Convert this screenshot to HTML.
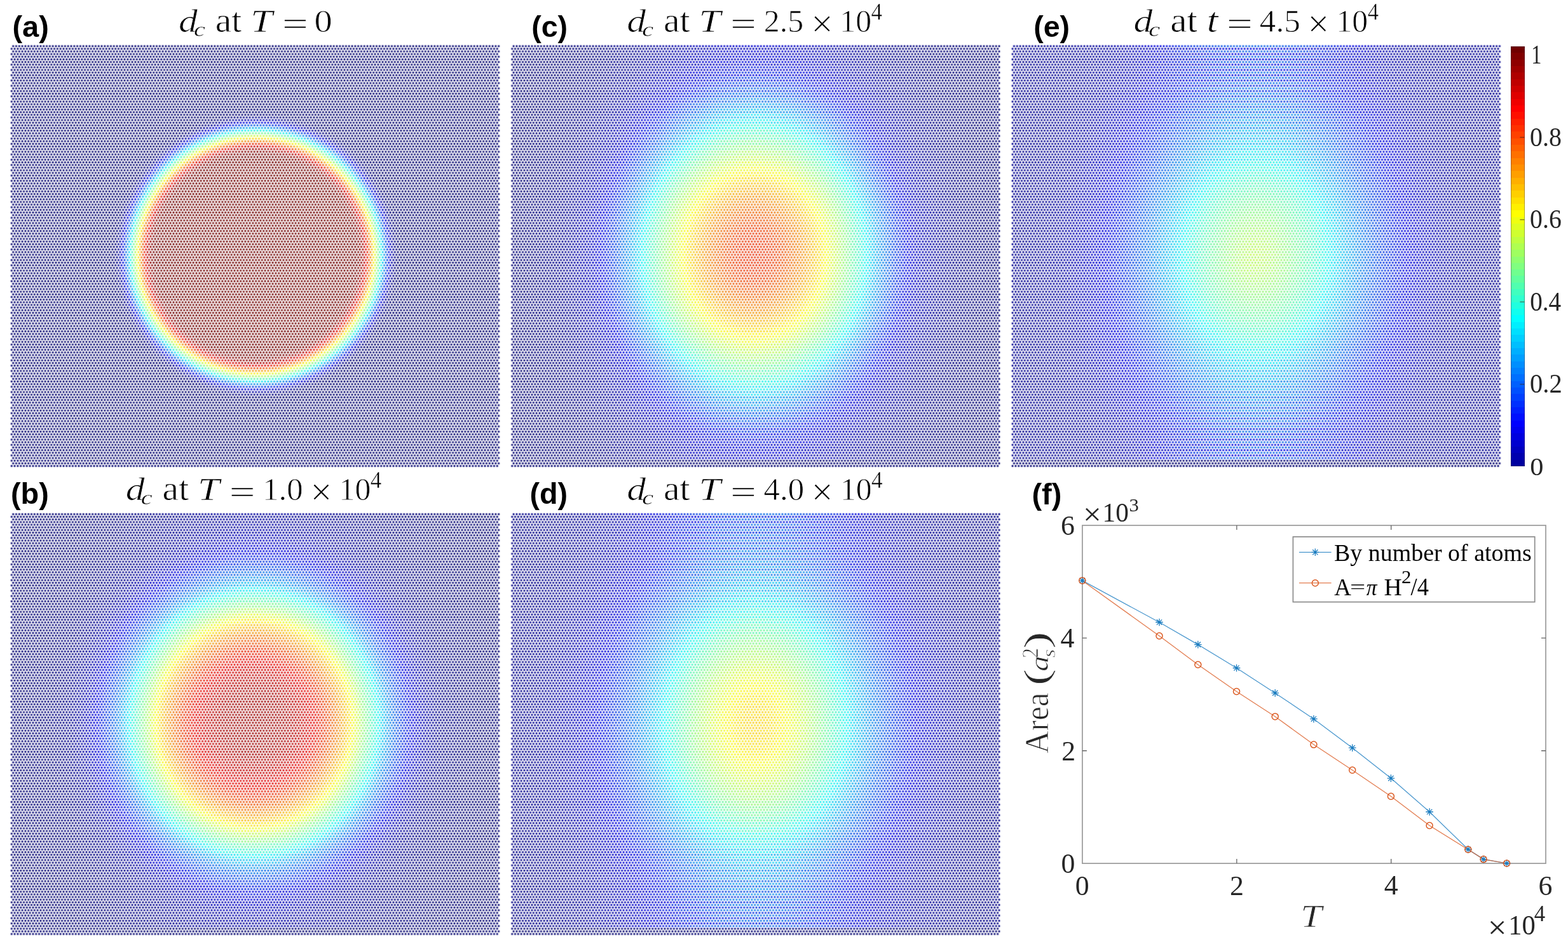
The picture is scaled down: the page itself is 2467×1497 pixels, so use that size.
<!DOCTYPE html>
<html lang="en"><head><meta charset="utf-8"><title>Figure</title>
<style>
html,body{margin:0;padding:0;background:#fff;overflow:hidden;}
body{width:2467px;height:1497px;position:relative;overflow:hidden;font-family:"Liberation Serif",serif;}
.s{position:absolute;filter:url(#jet);-webkit-mask-repeat:repeat;mask-repeat:repeat;
 -webkit-mask-size:9.6100px 8.3254px;mask-size:9.6100px 8.3254px;
 -webkit-mask-image:radial-gradient(circle at 4.8050px 4.1627px,rgba(0,0,0,0.8900) 0.000px,rgba(0,0,0,0.8800) 0.740px,rgba(0,0,0,0.7900) 1.030px,rgba(0,0,0,0.6100) 1.280px,rgba(0,0,0,0.3900) 1.520px,rgba(0,0,0,0.2200) 1.760px,rgba(0,0,0,0.1250) 2.000px,rgba(0,0,0,0.0700) 2.300px,rgba(0,0,0,0.0350) 2.750px,rgba(0,0,0,0.0120) 3.250px,rgba(0,0,0,0.0000) 3.800px),radial-gradient(circle at 4.8050px 4.1627px,rgba(0,0,0,0.8900) 0.000px,rgba(0,0,0,0.8800) 0.740px,rgba(0,0,0,0.7900) 1.030px,rgba(0,0,0,0.6100) 1.280px,rgba(0,0,0,0.3900) 1.520px,rgba(0,0,0,0.2200) 1.760px,rgba(0,0,0,0.1250) 2.000px,rgba(0,0,0,0.0700) 2.300px,rgba(0,0,0,0.0350) 2.750px,rgba(0,0,0,0.0120) 3.250px,rgba(0,0,0,0.0000) 3.800px);
 mask-image:radial-gradient(circle at 4.8050px 4.1627px,rgba(0,0,0,0.8900) 0.000px,rgba(0,0,0,0.8800) 0.740px,rgba(0,0,0,0.7900) 1.030px,rgba(0,0,0,0.6100) 1.280px,rgba(0,0,0,0.3900) 1.520px,rgba(0,0,0,0.2200) 1.760px,rgba(0,0,0,0.1250) 2.000px,rgba(0,0,0,0.0700) 2.300px,rgba(0,0,0,0.0350) 2.750px,rgba(0,0,0,0.0120) 3.250px,rgba(0,0,0,0.0000) 3.800px),radial-gradient(circle at 4.8050px 4.1627px,rgba(0,0,0,0.8900) 0.000px,rgba(0,0,0,0.8800) 0.740px,rgba(0,0,0,0.7900) 1.030px,rgba(0,0,0,0.6100) 1.280px,rgba(0,0,0,0.3900) 1.520px,rgba(0,0,0,0.2200) 1.760px,rgba(0,0,0,0.1250) 2.000px,rgba(0,0,0,0.0700) 2.300px,rgba(0,0,0,0.0350) 2.750px,rgba(0,0,0,0.0120) 3.250px,rgba(0,0,0,0.0000) 3.800px);}
svg{position:absolute;left:0;top:0;}

#paA{-webkit-mask-position:0.2875px 0.2119px,5.0925px 0.2119px;mask-position:0.2875px 0.2119px,5.0925px 0.2119px;}
#paA{clip-path:inset(9.10px 7.90px 8.99px 12.30px);}
#paA{left:6px;top:60px;width:789px;height:683px;background:radial-gradient(ellipse 260.0px 260.0px at 396.60px 342.40px,#ffffff 0.00%,#ffffff 60.94%,#fcfcfc 62.50%,#f6f6f6 64.06%,#ebebeb 65.62%,#dadada 67.19%,#c6c6c6 68.75%,#b1b1b1 70.31%,#9b9b9b 71.88%,#858585 73.44%,#6f6f6f 75.00%,#585858 76.56%,#424242 78.12%,#2d2d2d 79.69%,#1b1b1b 81.25%,#0d0d0d 82.81%,#050505 84.38%,#010101 85.94%,#000000 87.50%,#000000 100.00%);background-color:#000;background-blend-mode:screen;}
#paB{-webkit-mask-position:0.8850px 0.3746px,5.6900px 0.3746px;mask-position:0.8850px 0.3746px,5.6900px 0.3746px;}
#paB{clip-path:inset(9.26px 7.30px 8.83px 12.90px);}
#paB{left:3px;top:64px;width:789px;height:683px;background:radial-gradient(ellipse 260.0px 260.0px at 399.60px 338.40px,#ffffff 0.00%,#ffffff 60.94%,#fcfcfc 62.50%,#f6f6f6 64.06%,#ebebeb 65.62%,#dadada 67.19%,#c6c6c6 68.75%,#b1b1b1 70.31%,#9b9b9b 71.88%,#858585 73.44%,#6f6f6f 75.00%,#585858 76.56%,#424242 78.12%,#2d2d2d 79.69%,#1b1b1b 81.25%,#0d0d0d 82.81%,#050505 84.38%,#010101 85.94%,#000000 87.50%,#000000 100.00%);background-color:#000;background-blend-mode:screen;}
#pbA{-webkit-mask-position:0.2875px 0.9119px,5.0925px 0.9119px;mask-position:0.2875px 0.9119px,5.0925px 0.9119px;}
#pbA{clip-path:inset(9.80px 7.90px 8.29px 12.30px);}
#pbA{left:6px;top:796px;width:789px;height:683px;background:linear-gradient(to bottom,transparent 664.86px,#000 664.86px),radial-gradient(ellipse 420.0px 447.3px at 394.00px 342.33px,#f2f2f2 0.00%,#f2f2f2 6.25%,#f1f1f1 7.81%,#f1f1f1 9.38%,#f0f0f0 10.94%,#efefef 12.50%,#ececec 14.06%,#eaeaea 15.62%,#e8e8e8 17.19%,#e5e5e5 18.75%,#e2e2e2 20.31%,#dedede 21.88%,#dadada 23.44%,#d5d5d5 25.00%,#d0d0d0 26.56%,#c9c9c9 28.12%,#c2c2c2 29.69%,#bbbbbb 31.25%,#b3b3b3 32.81%,#ababab 34.38%,#a2a2a2 35.94%,#989898 37.50%,#8e8e8e 39.06%,#828282 40.62%,#787878 42.19%,#6e6e6e 43.75%,#656565 45.31%,#5b5b5b 46.88%,#505050 48.44%,#454545 50.00%,#3c3c3c 51.56%,#343434 53.12%,#2d2d2d 54.69%,#272727 56.25%,#212121 57.81%,#1c1c1c 59.38%,#171717 60.94%,#131313 62.50%,#0f0f0f 64.06%,#0c0c0c 65.62%,#0a0a0a 67.19%,#070707 68.75%,#060606 70.31%,#050505 71.88%,#040404 73.44%,#040404 75.00%,#030303 76.56%,#030303 78.12%,#020202 79.69%,#020202 82.81%,#010101 84.38%,#010101 92.19%,#000000 93.75%,#000000 100.00%),radial-gradient(ellipse 480.0px 1280.0px at 395.50px 344.33px,#0f0f0f 0.00%,#0f0f0f 7.81%,#0e0e0e 9.38%,#0e0e0e 14.06%,#0d0d0d 15.62%,#0d0d0d 18.75%,#0c0c0c 20.31%,#0c0c0c 21.88%,#0b0b0b 23.44%,#0b0b0b 25.00%,#0a0a0a 26.56%,#0a0a0a 29.69%,#090909 31.25%,#090909 32.81%,#080808 34.38%,#080808 35.94%,#070707 37.50%,#070707 39.06%,#060606 40.62%,#060606 43.75%,#050505 45.31%,#050505 48.44%,#040404 50.00%,#040404 53.12%,#030303 54.69%,#030303 57.81%,#020202 59.38%,#020202 65.62%,#010101 67.19%,#010101 81.25%,#000000 82.81%,#000000 100.00%);background-color:#000;background-blend-mode:normal,screen,screen;}
#pbB{-webkit-mask-position:0.8850px 0.0746px,5.6900px 0.0746px;mask-position:0.8850px 0.0746px,5.6900px 0.0746px;}
#pbB{clip-path:inset(8.96px 7.30px 9.13px 12.90px);}
#pbB{left:3px;top:801px;width:789px;height:683px;background:linear-gradient(to bottom,transparent 659.86px,#000 659.86px),radial-gradient(ellipse 420.0px 438.9px at 397.00px 337.33px,#f2f2f2 0.00%,#f2f2f2 6.25%,#f1f1f1 7.81%,#f1f1f1 9.38%,#f0f0f0 10.94%,#efefef 12.50%,#ececec 14.06%,#eaeaea 15.62%,#e8e8e8 17.19%,#e5e5e5 18.75%,#e2e2e2 20.31%,#dedede 21.88%,#dadada 23.44%,#d5d5d5 25.00%,#d0d0d0 26.56%,#c9c9c9 28.12%,#c2c2c2 29.69%,#bbbbbb 31.25%,#b3b3b3 32.81%,#ababab 34.38%,#a2a2a2 35.94%,#989898 37.50%,#8e8e8e 39.06%,#828282 40.62%,#787878 42.19%,#6e6e6e 43.75%,#656565 45.31%,#5b5b5b 46.88%,#505050 48.44%,#454545 50.00%,#3c3c3c 51.56%,#343434 53.12%,#2d2d2d 54.69%,#272727 56.25%,#212121 57.81%,#1c1c1c 59.38%,#171717 60.94%,#131313 62.50%,#0f0f0f 64.06%,#0c0c0c 65.62%,#0a0a0a 67.19%,#070707 68.75%,#060606 70.31%,#050505 71.88%,#040404 73.44%,#040404 75.00%,#030303 76.56%,#030303 78.12%,#020202 79.69%,#020202 82.81%,#010101 84.38%,#010101 92.19%,#000000 93.75%,#000000 100.00%),radial-gradient(ellipse 480.0px 1280.0px at 398.50px 339.33px,#0a0a0a 0.00%,#0a0a0a 9.38%,#090909 10.94%,#090909 17.19%,#080808 18.75%,#080808 23.44%,#070707 25.00%,#070707 28.12%,#060606 29.69%,#060606 32.81%,#050505 34.38%,#050505 39.06%,#040404 40.62%,#040404 43.75%,#030303 45.31%,#030303 51.56%,#020202 53.12%,#020202 59.38%,#010101 60.94%,#010101 75.00%,#000000 76.56%,#000000 100.00%);background-color:#000;background-blend-mode:normal,screen,screen;}
#pcA{-webkit-mask-position:0.6875px 0.2119px,5.4925px 0.2119px;mask-position:0.6875px 0.2119px,5.4925px 0.2119px;}
#pcA{clip-path:inset(9.10px 7.50px 8.99px 12.70px);}
#pcA{left:793px;top:60px;width:789px;height:683px;background:linear-gradient(to bottom,transparent 664.16px,#000 664.16px),radial-gradient(ellipse 520.0px 618.8px at 393.90px 340.63px,#d1d1d1 0.00%,#cfcfcf 1.56%,#cecece 3.12%,#cdcdcd 4.69%,#cbcbcb 6.25%,#c8c8c8 7.81%,#c4c4c4 9.38%,#c0c0c0 10.94%,#bbbbbb 12.50%,#b7b7b7 14.06%,#b1b1b1 15.62%,#ababab 17.19%,#a5a5a5 18.75%,#9f9f9f 20.31%,#989898 21.88%,#919191 23.44%,#898989 25.00%,#818181 26.56%,#797979 28.12%,#717171 29.69%,#696969 31.25%,#606060 32.81%,#575757 34.38%,#4e4e4e 35.94%,#454545 37.50%,#3d3d3d 39.06%,#353535 40.62%,#2e2e2e 42.19%,#272727 43.75%,#212121 45.31%,#1b1b1b 46.88%,#161616 48.44%,#131313 50.00%,#101010 51.56%,#0e0e0e 53.12%,#0b0b0b 54.69%,#0a0a0a 56.25%,#080808 57.81%,#070707 59.38%,#060606 60.94%,#050505 62.50%,#040404 64.06%,#040404 65.62%,#030303 67.19%,#030303 68.75%,#020202 70.31%,#020202 73.44%,#010101 75.00%,#010101 87.50%,#000000 89.06%,#000000 100.00%),radial-gradient(ellipse 480.0px 1280.0px at 395.90px 343.63px,#141414 0.00%,#141414 6.25%,#131313 7.81%,#131313 10.94%,#121212 12.50%,#121212 15.62%,#111111 17.19%,#111111 18.75%,#101010 20.31%,#101010 21.88%,#0f0f0f 23.44%,#0f0f0f 25.00%,#0e0e0e 26.56%,#0d0d0d 28.12%,#0d0d0d 29.69%,#0c0c0c 31.25%,#0c0c0c 32.81%,#0b0b0b 34.38%,#0a0a0a 35.94%,#0a0a0a 37.50%,#090909 39.06%,#090909 40.62%,#080808 42.19%,#080808 43.75%,#070707 45.31%,#060606 46.88%,#060606 50.00%,#050505 51.56%,#050505 53.12%,#040404 54.69%,#040404 57.81%,#030303 59.38%,#030303 62.50%,#020202 64.06%,#020202 70.31%,#010101 71.88%,#010101 84.38%,#000000 85.94%,#000000 100.00%);background-color:#000;background-blend-mode:normal,screen,screen;}
#pcB{-webkit-mask-position:0.2850px 0.3746px,5.0900px 0.3746px;mask-position:0.2850px 0.3746px,5.0900px 0.3746px;}
#pcB{clip-path:inset(9.26px 7.90px 8.83px 12.30px);}
#pcB{left:791px;top:64px;width:789px;height:683px;background:linear-gradient(to bottom,transparent 660.16px,#000 660.16px),radial-gradient(ellipse 520.0px 592.8px at 395.90px 336.63px,#d4d4d4 0.00%,#d2d2d2 1.56%,#d1d1d1 3.12%,#d0d0d0 4.69%,#cecece 6.25%,#cbcbcb 7.81%,#c7c7c7 9.38%,#c3c3c3 10.94%,#bebebe 12.50%,#b9b9b9 14.06%,#b4b4b4 15.62%,#aeaeae 17.19%,#a8a8a8 18.75%,#a1a1a1 20.31%,#9a9a9a 21.88%,#939393 23.44%,#8b8b8b 25.00%,#838383 26.56%,#7b7b7b 28.12%,#727272 29.69%,#6a6a6a 31.25%,#626262 32.81%,#595959 34.38%,#4f4f4f 35.94%,#464646 37.50%,#3e3e3e 39.06%,#363636 40.62%,#2e2e2e 42.19%,#272727 43.75%,#212121 45.31%,#1c1c1c 46.88%,#171717 48.44%,#131313 50.00%,#101010 51.56%,#0e0e0e 53.12%,#0c0c0c 54.69%,#0a0a0a 56.25%,#080808 57.81%,#070707 59.38%,#060606 60.94%,#050505 62.50%,#040404 64.06%,#040404 65.62%,#030303 67.19%,#030303 68.75%,#020202 70.31%,#020202 73.44%,#010101 75.00%,#010101 87.50%,#000000 89.06%,#000000 100.00%),radial-gradient(ellipse 480.0px 1280.0px at 397.90px 339.63px,#0a0a0a 0.00%,#0a0a0a 9.38%,#090909 10.94%,#090909 17.19%,#080808 18.75%,#080808 23.44%,#070707 25.00%,#070707 28.12%,#060606 29.69%,#060606 32.81%,#050505 34.38%,#050505 39.06%,#040404 40.62%,#040404 43.75%,#030303 45.31%,#030303 51.56%,#020202 53.12%,#020202 59.38%,#010101 60.94%,#010101 75.00%,#000000 76.56%,#000000 100.00%);background-color:#000;background-blend-mode:normal,screen,screen;}
#pdA{-webkit-mask-position:0.6875px 0.9119px,5.4925px 0.9119px;mask-position:0.6875px 0.9119px,5.4925px 0.9119px;}
#pdA{clip-path:inset(9.80px 7.50px 8.29px 12.70px);}
#pdA{left:793px;top:796px;width:789px;height:683px;background:linear-gradient(to bottom,transparent 664.86px,#000 664.86px),radial-gradient(ellipse 540.0px 742.0px at 395.90px 344.33px,#a5a5a5 0.00%,#a5a5a5 1.56%,#a4a4a4 3.12%,#a2a2a2 4.69%,#a0a0a0 6.25%,#9d9d9d 7.81%,#999999 9.38%,#959595 10.94%,#909090 12.50%,#8b8b8b 14.06%,#868686 15.62%,#808080 17.19%,#7a7a7a 18.75%,#747474 20.31%,#6e6e6e 21.88%,#676767 23.44%,#616161 25.00%,#5b5b5b 26.56%,#545454 28.12%,#4e4e4e 29.69%,#484848 31.25%,#424242 32.81%,#3c3c3c 34.38%,#373737 35.94%,#323232 37.50%,#2d2d2d 39.06%,#292929 40.62%,#242424 42.19%,#202020 43.75%,#1d1d1d 45.31%,#191919 46.88%,#161616 48.44%,#141414 50.00%,#111111 51.56%,#0f0f0f 53.12%,#0d0d0d 54.69%,#0b0b0b 56.25%,#0a0a0a 57.81%,#080808 59.38%,#070707 60.94%,#060606 62.50%,#050505 64.06%,#040404 65.62%,#040404 67.19%,#030303 68.75%,#020202 70.31%,#020202 73.44%,#010101 75.00%,#010101 81.25%,#000000 82.81%,#000000 100.00%),radial-gradient(ellipse 540.0px 742.0px at 395.90px -321.70px,#a5a5a5 0.00%,#a5a5a5 1.56%,#a4a4a4 3.12%,#a2a2a2 4.69%,#a0a0a0 6.25%,#9d9d9d 7.81%,#999999 9.38%,#959595 10.94%,#909090 12.50%,#8b8b8b 14.06%,#868686 15.62%,#808080 17.19%,#7a7a7a 18.75%,#747474 20.31%,#6e6e6e 21.88%,#676767 23.44%,#616161 25.00%,#5b5b5b 26.56%,#545454 28.12%,#4e4e4e 29.69%,#484848 31.25%,#424242 32.81%,#3c3c3c 34.38%,#373737 35.94%,#323232 37.50%,#2d2d2d 39.06%,#292929 40.62%,#242424 42.19%,#202020 43.75%,#1d1d1d 45.31%,#191919 46.88%,#161616 48.44%,#141414 50.00%,#111111 51.56%,#0f0f0f 53.12%,#0d0d0d 54.69%,#0b0b0b 56.25%,#0a0a0a 57.81%,#080808 59.38%,#070707 60.94%,#060606 62.50%,#050505 64.06%,#040404 65.62%,#040404 67.19%,#030303 68.75%,#020202 70.31%,#020202 73.44%,#010101 75.00%,#010101 81.25%,#000000 82.81%,#000000 100.00%),radial-gradient(ellipse 540.0px 742.0px at 395.90px 1010.37px,#a5a5a5 0.00%,#a5a5a5 1.56%,#a4a4a4 3.12%,#a2a2a2 4.69%,#a0a0a0 6.25%,#9d9d9d 7.81%,#999999 9.38%,#959595 10.94%,#909090 12.50%,#8b8b8b 14.06%,#868686 15.62%,#808080 17.19%,#7a7a7a 18.75%,#747474 20.31%,#6e6e6e 21.88%,#676767 23.44%,#616161 25.00%,#5b5b5b 26.56%,#545454 28.12%,#4e4e4e 29.69%,#484848 31.25%,#424242 32.81%,#3c3c3c 34.38%,#373737 35.94%,#323232 37.50%,#2d2d2d 39.06%,#292929 40.62%,#242424 42.19%,#202020 43.75%,#1d1d1d 45.31%,#191919 46.88%,#161616 48.44%,#141414 50.00%,#111111 51.56%,#0f0f0f 53.12%,#0d0d0d 54.69%,#0b0b0b 56.25%,#0a0a0a 57.81%,#080808 59.38%,#070707 60.94%,#060606 62.50%,#050505 64.06%,#040404 65.62%,#040404 67.19%,#030303 68.75%,#020202 70.31%,#020202 73.44%,#010101 75.00%,#010101 81.25%,#000000 82.81%,#000000 100.00%),linear-gradient(#060606,#060606);background-color:#000;background-blend-mode:normal,screen,screen,screen,screen;}
#pdB{-webkit-mask-position:0.2850px 0.0746px,5.0900px 0.0746px;mask-position:0.2850px 0.0746px,5.0900px 0.0746px;}
#pdB{clip-path:inset(8.96px 7.90px 9.13px 12.30px);}
#pdB{left:791px;top:801px;width:789px;height:683px;background:linear-gradient(to bottom,transparent 659.86px,#000 659.86px),radial-gradient(ellipse 540.0px 647.2px at 397.90px 339.33px,#aaaaaa 0.00%,#aaaaaa 1.56%,#a8a8a8 3.12%,#a7a7a7 4.69%,#a4a4a4 6.25%,#a1a1a1 7.81%,#9e9e9e 9.38%,#999999 10.94%,#959595 12.50%,#909090 14.06%,#8a8a8a 15.62%,#848484 17.19%,#7e7e7e 18.75%,#787878 20.31%,#717171 21.88%,#6b6b6b 23.44%,#646464 25.00%,#5d5d5d 26.56%,#575757 28.12%,#505050 29.69%,#4a4a4a 31.25%,#444444 32.81%,#3e3e3e 34.38%,#393939 35.94%,#333333 37.50%,#2e2e2e 39.06%,#2a2a2a 40.62%,#252525 42.19%,#212121 43.75%,#1e1e1e 45.31%,#1a1a1a 46.88%,#171717 48.44%,#141414 50.00%,#121212 51.56%,#0f0f0f 53.12%,#0d0d0d 54.69%,#0c0c0c 56.25%,#0a0a0a 57.81%,#080808 59.38%,#070707 60.94%,#060606 62.50%,#050505 64.06%,#040404 65.62%,#040404 67.19%,#030303 68.75%,#030303 70.31%,#020202 71.88%,#020202 73.44%,#010101 75.00%,#010101 82.81%,#000000 84.38%,#000000 100.00%),radial-gradient(ellipse 540.0px 647.2px at 397.90px -326.70px,#aaaaaa 0.00%,#aaaaaa 1.56%,#a8a8a8 3.12%,#a7a7a7 4.69%,#a4a4a4 6.25%,#a1a1a1 7.81%,#9e9e9e 9.38%,#999999 10.94%,#959595 12.50%,#909090 14.06%,#8a8a8a 15.62%,#848484 17.19%,#7e7e7e 18.75%,#787878 20.31%,#717171 21.88%,#6b6b6b 23.44%,#646464 25.00%,#5d5d5d 26.56%,#575757 28.12%,#505050 29.69%,#4a4a4a 31.25%,#444444 32.81%,#3e3e3e 34.38%,#393939 35.94%,#333333 37.50%,#2e2e2e 39.06%,#2a2a2a 40.62%,#252525 42.19%,#212121 43.75%,#1e1e1e 45.31%,#1a1a1a 46.88%,#171717 48.44%,#141414 50.00%,#121212 51.56%,#0f0f0f 53.12%,#0d0d0d 54.69%,#0c0c0c 56.25%,#0a0a0a 57.81%,#080808 59.38%,#070707 60.94%,#060606 62.50%,#050505 64.06%,#040404 65.62%,#040404 67.19%,#030303 68.75%,#030303 70.31%,#020202 71.88%,#020202 73.44%,#010101 75.00%,#010101 82.81%,#000000 84.38%,#000000 100.00%),radial-gradient(ellipse 540.0px 647.2px at 397.90px 1005.37px,#aaaaaa 0.00%,#aaaaaa 1.56%,#a8a8a8 3.12%,#a7a7a7 4.69%,#a4a4a4 6.25%,#a1a1a1 7.81%,#9e9e9e 9.38%,#999999 10.94%,#959595 12.50%,#909090 14.06%,#8a8a8a 15.62%,#848484 17.19%,#7e7e7e 18.75%,#787878 20.31%,#717171 21.88%,#6b6b6b 23.44%,#646464 25.00%,#5d5d5d 26.56%,#575757 28.12%,#505050 29.69%,#4a4a4a 31.25%,#444444 32.81%,#3e3e3e 34.38%,#393939 35.94%,#333333 37.50%,#2e2e2e 39.06%,#2a2a2a 40.62%,#252525 42.19%,#212121 43.75%,#1e1e1e 45.31%,#1a1a1a 46.88%,#171717 48.44%,#141414 50.00%,#121212 51.56%,#0f0f0f 53.12%,#0d0d0d 54.69%,#0c0c0c 56.25%,#0a0a0a 57.81%,#080808 59.38%,#070707 60.94%,#060606 62.50%,#050505 64.06%,#040404 65.62%,#040404 67.19%,#030303 68.75%,#030303 70.31%,#020202 71.88%,#020202 73.44%,#010101 75.00%,#010101 82.81%,#000000 84.38%,#000000 100.00%),linear-gradient(#060606,#060606);background-color:#000;background-blend-mode:normal,screen,screen,screen,screen;}
#peA{-webkit-mask-position:0.0875px 0.2119px,4.8925px 0.2119px;mask-position:0.0875px 0.2119px,4.8925px 0.2119px;}
#peA{clip-path:inset(9.10px 8.10px 8.99px 12.10px);}
#peA{left:1581px;top:60px;width:789px;height:683px;background:linear-gradient(to bottom,transparent 664.16px,#000 664.16px),radial-gradient(ellipse 540.0px 788.4px at 395.30px 343.63px,#8b8b8b 0.00%,#8a8a8a 1.56%,#898989 3.12%,#878787 4.69%,#848484 6.25%,#818181 7.81%,#7e7e7e 9.38%,#7a7a7a 10.94%,#777777 12.50%,#737373 14.06%,#6f6f6f 15.62%,#6a6a6a 17.19%,#666666 18.75%,#616161 20.31%,#5c5c5c 21.88%,#575757 23.44%,#525252 25.00%,#4d4d4d 26.56%,#484848 28.12%,#434343 29.69%,#3e3e3e 31.25%,#3a3a3a 32.81%,#353535 34.38%,#313131 35.94%,#2d2d2d 37.50%,#2a2a2a 39.06%,#262626 40.62%,#232323 42.19%,#202020 43.75%,#1d1d1d 45.31%,#1b1b1b 46.88%,#181818 48.44%,#161616 50.00%,#141414 51.56%,#121212 53.12%,#101010 54.69%,#0f0f0f 56.25%,#0e0e0e 57.81%,#0d0d0d 59.38%,#0c0c0c 60.94%,#0b0b0b 62.50%,#0b0b0b 65.62%,#0a0a0a 67.19%,#0a0a0a 73.44%,#090909 75.00%,#090909 100.00%),radial-gradient(ellipse 540.0px 788.4px at 395.30px -322.40px,#828282 0.00%,#818181 1.56%,#808080 3.12%,#7e7e7e 4.69%,#7b7b7b 6.25%,#787878 7.81%,#757575 9.38%,#727272 10.94%,#6e6e6e 12.50%,#6a6a6a 14.06%,#666666 15.62%,#626262 17.19%,#5d5d5d 18.75%,#585858 20.31%,#535353 21.88%,#4e4e4e 23.44%,#494949 25.00%,#444444 26.56%,#3f3f3f 28.12%,#3b3b3b 29.69%,#363636 31.25%,#313131 32.81%,#2d2d2d 34.38%,#292929 35.94%,#252525 37.50%,#212121 39.06%,#1d1d1d 40.62%,#1a1a1a 42.19%,#171717 43.75%,#151515 45.31%,#121212 46.88%,#101010 48.44%,#0d0d0d 50.00%,#0b0b0b 51.56%,#0a0a0a 53.12%,#080808 54.69%,#060606 56.25%,#050505 57.81%,#040404 59.38%,#030303 60.94%,#030303 62.50%,#020202 64.06%,#020202 67.19%,#010101 68.75%,#010101 82.81%,#000000 84.38%,#000000 100.00%),radial-gradient(ellipse 540.0px 788.4px at 395.30px 1009.67px,#828282 0.00%,#818181 1.56%,#808080 3.12%,#7e7e7e 4.69%,#7b7b7b 6.25%,#787878 7.81%,#757575 9.38%,#727272 10.94%,#6e6e6e 12.50%,#6a6a6a 14.06%,#666666 15.62%,#626262 17.19%,#5d5d5d 18.75%,#585858 20.31%,#535353 21.88%,#4e4e4e 23.44%,#494949 25.00%,#444444 26.56%,#3f3f3f 28.12%,#3b3b3b 29.69%,#363636 31.25%,#313131 32.81%,#2d2d2d 34.38%,#292929 35.94%,#252525 37.50%,#212121 39.06%,#1d1d1d 40.62%,#1a1a1a 42.19%,#171717 43.75%,#151515 45.31%,#121212 46.88%,#101010 48.44%,#0d0d0d 50.00%,#0b0b0b 51.56%,#0a0a0a 53.12%,#080808 54.69%,#060606 56.25%,#050505 57.81%,#040404 59.38%,#030303 60.94%,#030303 62.50%,#020202 64.06%,#020202 67.19%,#010101 68.75%,#010101 82.81%,#000000 84.38%,#000000 100.00%);background-color:#000;background-blend-mode:normal,screen,screen,screen;}
#peB{-webkit-mask-position:0.6850px 0.3746px,5.4900px 0.3746px;mask-position:0.6850px 0.3746px,5.4900px 0.3746px;}
#peB{clip-path:inset(9.26px 7.50px 8.83px 12.70px);}
#peB{left:1578px;top:64px;width:789px;height:683px;background:linear-gradient(to bottom,transparent 660.16px,#000 660.16px),radial-gradient(ellipse 540.0px 648.0px at 398.30px 339.63px,#909090 0.00%,#909090 1.56%,#8e8e8e 3.12%,#8c8c8c 4.69%,#898989 6.25%,#868686 7.81%,#838383 9.38%,#7f7f7f 10.94%,#7b7b7b 12.50%,#777777 14.06%,#737373 15.62%,#6f6f6f 17.19%,#6a6a6a 18.75%,#656565 20.31%,#5f5f5f 21.88%,#5a5a5a 23.44%,#555555 25.00%,#505050 26.56%,#4b4b4b 28.12%,#464646 29.69%,#414141 31.25%,#3c3c3c 32.81%,#383838 34.38%,#333333 35.94%,#2f2f2f 37.50%,#2b2b2b 39.06%,#282828 40.62%,#242424 42.19%,#212121 43.75%,#1e1e1e 45.31%,#1c1c1c 46.88%,#191919 48.44%,#171717 50.00%,#151515 51.56%,#131313 53.12%,#111111 54.69%,#0f0f0f 56.25%,#0e0e0e 57.81%,#0d0d0d 59.38%,#0d0d0d 60.94%,#0c0c0c 62.50%,#0b0b0b 64.06%,#0b0b0b 67.19%,#0a0a0a 68.75%,#0a0a0a 81.25%,#090909 82.81%,#090909 100.00%),radial-gradient(ellipse 540.0px 648.0px at 398.30px -326.40px,#888888 0.00%,#878787 1.56%,#858585 3.12%,#838383 4.69%,#808080 6.25%,#7d7d7d 7.81%,#7a7a7a 9.38%,#767676 10.94%,#737373 12.50%,#6f6f6f 14.06%,#6a6a6a 15.62%,#666666 17.19%,#616161 18.75%,#5c5c5c 20.31%,#575757 21.88%,#515151 23.44%,#4c4c4c 25.00%,#474747 26.56%,#424242 28.12%,#3d3d3d 29.69%,#383838 31.25%,#333333 32.81%,#2f2f2f 34.38%,#2a2a2a 35.94%,#262626 37.50%,#222222 39.06%,#1f1f1f 40.62%,#1b1b1b 42.19%,#181818 43.75%,#151515 45.31%,#131313 46.88%,#101010 48.44%,#0e0e0e 50.00%,#0c0c0c 51.56%,#0a0a0a 53.12%,#080808 54.69%,#070707 56.25%,#050505 57.81%,#040404 59.38%,#040404 60.94%,#030303 62.50%,#030303 64.06%,#020202 65.62%,#020202 67.19%,#010101 68.75%,#010101 84.38%,#000000 85.94%,#000000 100.00%),radial-gradient(ellipse 540.0px 648.0px at 398.30px 1005.67px,#888888 0.00%,#878787 1.56%,#858585 3.12%,#838383 4.69%,#808080 6.25%,#7d7d7d 7.81%,#7a7a7a 9.38%,#767676 10.94%,#737373 12.50%,#6f6f6f 14.06%,#6a6a6a 15.62%,#666666 17.19%,#616161 18.75%,#5c5c5c 20.31%,#575757 21.88%,#515151 23.44%,#4c4c4c 25.00%,#474747 26.56%,#424242 28.12%,#3d3d3d 29.69%,#383838 31.25%,#333333 32.81%,#2f2f2f 34.38%,#2a2a2a 35.94%,#262626 37.50%,#222222 39.06%,#1f1f1f 40.62%,#1b1b1b 42.19%,#181818 43.75%,#151515 45.31%,#131313 46.88%,#101010 48.44%,#0e0e0e 50.00%,#0c0c0c 51.56%,#0a0a0a 53.12%,#080808 54.69%,#070707 56.25%,#050505 57.81%,#040404 59.38%,#040404 60.94%,#030303 62.50%,#030303 64.06%,#020202 65.62%,#020202 67.19%,#010101 68.75%,#010101 84.38%,#000000 85.94%,#000000 100.00%);background-color:#000;background-blend-mode:normal,screen,screen,screen;}
#cb{position:absolute;left:2376.60px;top:73.30px;width:22.30px;height:661.10px;background:linear-gradient(to bottom,#700000 0.000%,#700000 1.562%,#800000 1.562%,#800000 3.125%,#8f0000 3.125%,#8f0000 4.688%,#9f0000 4.688%,#9f0000 6.250%,#af0000 6.250%,#af0000 7.812%,#bf0000 7.812%,#bf0000 9.375%,#cf0000 9.375%,#cf0000 10.938%,#df0000 10.938%,#df0000 12.500%,#ef0000 12.500%,#ef0000 14.062%,#ff0000 14.062%,#ff0000 15.625%,#ff1000 15.625%,#ff1000 17.188%,#ff2000 17.188%,#ff2000 18.750%,#ff3000 18.750%,#ff3000 20.312%,#ff4000 20.312%,#ff4000 21.875%,#ff5000 21.875%,#ff5000 23.438%,#ff6000 23.438%,#ff6000 25.000%,#ff7000 25.000%,#ff7000 26.562%,#ff8000 26.562%,#ff8000 28.125%,#ff8f00 28.125%,#ff8f00 29.688%,#ff9f00 29.688%,#ff9f00 31.250%,#ffaf00 31.250%,#ffaf00 32.812%,#ffbf00 32.812%,#ffbf00 34.375%,#ffcf00 34.375%,#ffcf00 35.938%,#ffdf00 35.938%,#ffdf00 37.500%,#ffef00 37.500%,#ffef00 39.062%,#ffff00 39.062%,#ffff00 40.625%,#efff10 40.625%,#efff10 42.188%,#dfff20 42.188%,#dfff20 43.750%,#cfff30 43.750%,#cfff30 45.312%,#bfff40 45.312%,#bfff40 46.875%,#afff50 46.875%,#afff50 48.438%,#9fff60 48.438%,#9fff60 50.000%,#8fff70 50.000%,#8fff70 51.562%,#80ff80 51.562%,#80ff80 53.125%,#70ff8f 53.125%,#70ff8f 54.688%,#60ff9f 54.688%,#60ff9f 56.250%,#50ffaf 56.250%,#50ffaf 57.812%,#40ffbf 57.812%,#40ffbf 59.375%,#30ffcf 59.375%,#30ffcf 60.938%,#20ffdf 60.938%,#20ffdf 62.500%,#10ffef 62.500%,#10ffef 64.062%,#00ffff 64.062%,#00ffff 65.625%,#00efff 65.625%,#00efff 67.188%,#00dfff 67.188%,#00dfff 68.750%,#00cfff 68.750%,#00cfff 70.312%,#00bfff 70.312%,#00bfff 71.875%,#00afff 71.875%,#00afff 73.438%,#009fff 73.438%,#009fff 75.000%,#008fff 75.000%,#008fff 76.562%,#0080ff 76.562%,#0080ff 78.125%,#0070ff 78.125%,#0070ff 79.688%,#0060ff 79.688%,#0060ff 81.250%,#0050ff 81.250%,#0050ff 82.812%,#0040ff 82.812%,#0040ff 84.375%,#0030ff 84.375%,#0030ff 85.938%,#0020ff 85.938%,#0020ff 87.500%,#0010ff 87.500%,#0010ff 89.062%,#0000ff 89.062%,#0000ff 90.625%,#0000ef 90.625%,#0000ef 92.188%,#0000df 92.188%,#0000df 93.750%,#0000cf 93.750%,#0000cf 95.312%,#0000bf 95.312%,#0000bf 96.875%,#0000af 96.875%,#0000af 98.438%,#00009f 98.438%,#00009f 100.000%);box-shadow:inset 0 0 0 1px rgba(40,20,40,0.35);}</style></head>
<body>
<div class="s" id="paA"></div>
<div class="s" id="paB"></div>
<div class="s" id="pbA"></div>
<div class="s" id="pbB"></div>
<div class="s" id="pcA"></div>
<div class="s" id="pcB"></div>
<div class="s" id="pdA"></div>
<div class="s" id="pdB"></div>
<div class="s" id="peA"></div>
<div class="s" id="peB"></div>
<div id="cb"></div>
<svg width="2467" height="1497" viewBox="0 0 2467 1497">
<defs><filter id="jet" x="0" y="0" width="100%" height="100%" color-interpolation-filters="sRGB"><feComponentTransfer><feFuncR type="table" tableValues="0.009 0.009 0.01 0.01 0.011 0.011 0.012 0.012 0.013 0.013 0.014 0.014 0.015 0.015 0.016 0.017 0.017 0.02 0.023 0.025 0.028 0.031 0.034 0.036 0.039 0.042 0.045 0.047 0.05 0.053 0.056 0.059 0.061 0.064 0.066 0.069 0.072 0.075 0.078 0.08 0.083 0.086 0.089 0.091 0.094 0.097 0.1 0.102 0.105 0.133 0.16 0.188 0.215 0.243 0.27 0.298 0.325 0.353 0.381 0.408 0.436 0.463 0.491 0.518 0.546 0.57 0.597 0.625 0.652 0.68 0.708 0.735 0.763 0.79 0.818 0.845 0.873 0.9 0.928 0.955 0.983 0.98 0.977 0.975 0.972 0.969 0.966 0.964 0.961 0.958 0.955 0.953 0.95 0.947 0.944 0.941 0.939 0.936 0.934 0.931 0.928 0.925 0.922 0.92 0.917 0.914 0.911 0.909 0.906 0.903 0.9 0.898 0.895 0.867 0.839 0.811 0.783 0.754 0.726 0.698 0.67 0.642 0.614 0.586 0.558 0.53 0.502 0.474 0.449"/><feFuncG type="table" tableValues="0.009 0.009 0.01 0.01 0.011 0.011 0.012 0.012 0.013 0.013 0.014 0.014 0.015 0.015 0.016 0.017 0.017 0.047 0.076 0.105 0.135 0.164 0.194 0.223 0.253 0.282 0.311 0.341 0.37 0.4 0.429 0.459 0.488 0.514 0.543 0.573 0.602 0.631 0.661 0.69 0.72 0.749 0.779 0.808 0.837 0.867 0.896 0.926 0.955 0.956 0.957 0.958 0.959 0.96 0.96 0.961 0.962 0.963 0.964 0.965 0.966 0.966 0.967 0.968 0.969 0.97 0.971 0.972 0.972 0.973 0.974 0.975 0.976 0.977 0.978 0.979 0.979 0.98 0.981 0.982 0.983 0.953 0.924 0.895 0.865 0.836 0.806 0.777 0.747 0.718 0.689 0.659 0.63 0.6 0.571 0.541 0.516 0.486 0.457 0.427 0.398 0.369 0.339 0.31 0.28 0.251 0.221 0.192 0.163 0.133 0.104 0.074 0.045 0.043 0.042 0.041 0.039 0.038 0.036 0.035 0.034 0.032 0.031 0.029 0.028 0.027 0.025 0.024 0.023"/><feFuncB type="table" tableValues="0.435 0.459 0.486 0.513 0.541 0.568 0.595 0.622 0.649 0.677 0.704 0.731 0.758 0.785 0.813 0.84 0.867 0.87 0.873 0.875 0.878 0.881 0.884 0.886 0.889 0.892 0.895 0.897 0.9 0.903 0.906 0.909 0.911 0.914 0.916 0.919 0.922 0.925 0.928 0.93 0.933 0.936 0.939 0.941 0.944 0.947 0.95 0.952 0.955 0.929 0.904 0.878 0.852 0.826 0.8 0.775 0.749 0.723 0.697 0.671 0.646 0.62 0.594 0.568 0.546 0.52 0.494 0.468 0.442 0.417 0.391 0.365 0.339 0.313 0.288 0.262 0.236 0.21 0.184 0.159 0.133 0.13 0.127 0.125 0.122 0.119 0.116 0.114 0.111 0.108 0.105 0.103 0.1 0.097 0.094 0.091 0.089 0.086 0.084 0.081 0.078 0.075 0.072 0.07 0.067 0.064 0.061 0.059 0.056 0.053 0.05 0.048 0.045 0.043 0.042 0.041 0.039 0.038 0.036 0.035 0.034 0.032 0.031 0.029 0.028 0.027 0.025 0.024 0.023"/></feComponentTransfer></filter></defs>
<text transform="matrix(0.4698 0.0000 0.0000 0.4676 19.421 57.898)" font-family='"Liberation Sans",sans-serif' font-size="100" font-weight="bold" font-style="normal" fill="#000">(a)</text>
<text transform="matrix(0.4688 0.0000 0.0000 0.4708 16.956 793.031)" font-family='"Liberation Sans",sans-serif' font-size="100" font-weight="bold" font-style="normal" fill="#000">(b)</text>
<text transform="matrix(0.4659 0.0000 0.0000 0.4676 836.170 57.898)" font-family='"Liberation Sans",sans-serif' font-size="100" font-weight="bold" font-style="normal" fill="#000">(c)</text>
<text transform="matrix(0.4671 0.0000 0.0000 0.4708 833.465 793.031)" font-family='"Liberation Sans",sans-serif' font-size="100" font-weight="bold" font-style="normal" fill="#000">(d)</text>
<text transform="matrix(0.4659 0.0000 0.0000 0.4676 1626.170 58.498)" font-family='"Liberation Sans",sans-serif' font-size="100" font-weight="bold" font-style="normal" fill="#000">(e)</text>
<text transform="matrix(0.4702 0.0000 0.0000 0.4681 1623.449 793.687)" font-family='"Liberation Sans",sans-serif' font-size="100" font-weight="bold" font-style="normal" fill="#000">(f)</text>
<text transform="matrix(0.5968 0.0000 0.0000 0.5035 281.010 50.146)" font-family='"Liberation Serif",serif' font-size="100" font-weight="normal" font-style="italic" fill="#000" stroke="#fff" stroke-width="0.80" vector-effect="non-scaling-stroke">d</text>
<text transform="matrix(0.4037 0.0000 0.0000 0.3052 304.964 56.620)" font-family='"Liberation Serif",serif' font-size="100" font-weight="normal" font-style="italic" fill="#000" stroke="#fff" stroke-width="0.45" vector-effect="non-scaling-stroke">c</text>
<text transform="matrix(0.5758 0.0000 0.0000 0.5435 338.785 50.107)" font-family='"Liberation Serif",serif' font-size="100" font-weight="normal" font-style="normal" fill="#000" stroke="#fff" stroke-width="0.80" vector-effect="non-scaling-stroke">at</text>
<text transform="matrix(0.6200 0.0000 0.0000 0.5122 394.270 49.750)" font-family='"Liberation Serif",serif' font-size="100" font-weight="normal" font-style="italic" fill="#000" stroke="#fff" stroke-width="0.80" vector-effect="non-scaling-stroke">T</text>
<text transform="matrix(0.7312 0.0000 0.0000 0.5380 443.744 55.063)" font-family='"Liberation Serif",serif' font-size="100" font-weight="normal" font-style="normal" fill="#000" stroke="#fff" stroke-width="0.80" vector-effect="non-scaling-stroke">=</text>
<text transform="matrix(0.5647 0.0000 0.0000 0.5052 494.382 50.295)" font-family='"Liberation Serif",serif' font-size="100" font-weight="normal" font-style="normal" fill="#000" stroke="#fff" stroke-width="0.80" vector-effect="non-scaling-stroke">0</text>
<text transform="matrix(0.5968 0.0000 0.0000 0.5035 986.210 50.146)" font-family='"Liberation Serif",serif' font-size="100" font-weight="normal" font-style="italic" fill="#000" stroke="#fff" stroke-width="0.80" vector-effect="non-scaling-stroke">d</text>
<text transform="matrix(0.4037 0.0000 0.0000 0.3052 1010.164 56.620)" font-family='"Liberation Serif",serif' font-size="100" font-weight="normal" font-style="italic" fill="#000" stroke="#fff" stroke-width="0.45" vector-effect="non-scaling-stroke">c</text>
<text transform="matrix(0.5758 0.0000 0.0000 0.5435 1043.985 50.107)" font-family='"Liberation Serif",serif' font-size="100" font-weight="normal" font-style="normal" fill="#000" stroke="#fff" stroke-width="0.80" vector-effect="non-scaling-stroke">at</text>
<text transform="matrix(0.6200 0.0000 0.0000 0.5122 1099.470 49.750)" font-family='"Liberation Serif",serif' font-size="100" font-weight="normal" font-style="italic" fill="#000" stroke="#fff" stroke-width="0.80" vector-effect="non-scaling-stroke">T</text>
<text transform="matrix(0.7312 0.0000 0.0000 0.5380 1148.944 55.063)" font-family='"Liberation Serif",serif' font-size="100" font-weight="normal" font-style="normal" fill="#000" stroke="#fff" stroke-width="0.80" vector-effect="non-scaling-stroke">=</text>
<text transform="matrix(0.4994 0.0000 0.0000 0.5033 1201.778 50.045)" font-family='"Liberation Serif",serif' font-size="100" font-weight="normal" font-style="normal" fill="#000" stroke="#fff" stroke-width="0.80" vector-effect="non-scaling-stroke">2.5</text>
<text transform="matrix(0.6198 0.0000 0.0000 0.6160 1275.942 57.707)" font-family='"Liberation Serif",serif' font-size="100" font-weight="normal" font-style="normal" fill="#000" stroke="#fff" stroke-width="0.80" vector-effect="non-scaling-stroke">×</text>
<text transform="matrix(0.4983 0.0000 0.0000 0.5052 1321.340 50.295)" font-family='"Liberation Serif",serif' font-size="100" font-weight="normal" font-style="normal" fill="#000" stroke="#fff" stroke-width="0.80" vector-effect="non-scaling-stroke">10</text>
<text transform="matrix(0.3505 0.0000 0.0000 0.3848 1370.549 31.100)" font-family='"Liberation Serif",serif' font-size="100" font-weight="normal" font-style="normal" fill="#000" stroke="#fff" stroke-width="0.50" vector-effect="non-scaling-stroke">4</text>
<text transform="matrix(0.5968 0.0000 0.0000 0.5035 1783.410 50.146)" font-family='"Liberation Serif",serif' font-size="100" font-weight="normal" font-style="italic" fill="#000" stroke="#fff" stroke-width="0.80" vector-effect="non-scaling-stroke">d</text>
<text transform="matrix(0.4037 0.0000 0.0000 0.3052 1807.364 56.620)" font-family='"Liberation Serif",serif' font-size="100" font-weight="normal" font-style="italic" fill="#000" stroke="#fff" stroke-width="0.45" vector-effect="non-scaling-stroke">c</text>
<text transform="matrix(0.5919 0.0000 0.0000 0.5435 1841.128 50.107)" font-family='"Liberation Serif",serif' font-size="100" font-weight="normal" font-style="normal" fill="#000" stroke="#fff" stroke-width="0.80" vector-effect="non-scaling-stroke">at</text>
<text transform="matrix(0.6376 0.0000 0.0000 0.5435 1898.831 50.107)" font-family='"Liberation Serif",serif' font-size="100" font-weight="normal" font-style="italic" fill="#000" stroke="#fff" stroke-width="0.80" vector-effect="non-scaling-stroke">t</text>
<text transform="matrix(0.7312 0.0000 0.0000 0.5380 1929.744 55.063)" font-family='"Liberation Serif",serif' font-size="100" font-weight="normal" font-style="normal" fill="#000" stroke="#fff" stroke-width="0.80" vector-effect="non-scaling-stroke">=</text>
<text transform="matrix(0.5126 0.0000 0.0000 0.5071 1981.775 50.039)" font-family='"Liberation Serif",serif' font-size="100" font-weight="normal" font-style="normal" fill="#000" stroke="#fff" stroke-width="0.80" vector-effect="non-scaling-stroke">4.5</text>
<text transform="matrix(0.6049 0.0000 0.0000 0.6160 2057.160 57.707)" font-family='"Liberation Serif",serif' font-size="100" font-weight="normal" font-style="normal" fill="#000" stroke="#fff" stroke-width="0.80" vector-effect="non-scaling-stroke">×</text>
<text transform="matrix(0.4971 0.0000 0.0000 0.5052 2102.450 50.295)" font-family='"Liberation Serif",serif' font-size="100" font-weight="normal" font-style="normal" fill="#000" stroke="#fff" stroke-width="0.80" vector-effect="non-scaling-stroke">10</text>
<text transform="matrix(0.3505 0.0000 0.0000 0.3848 2151.649 31.100)" font-family='"Liberation Serif",serif' font-size="100" font-weight="normal" font-style="normal" fill="#000" stroke="#fff" stroke-width="0.50" vector-effect="non-scaling-stroke">4</text>
<text transform="matrix(0.5968 0.0000 0.0000 0.5035 197.810 787.146)" font-family='"Liberation Serif",serif' font-size="100" font-weight="normal" font-style="italic" fill="#000" stroke="#fff" stroke-width="0.80" vector-effect="non-scaling-stroke">d</text>
<text transform="matrix(0.4037 0.0000 0.0000 0.3052 221.764 793.620)" font-family='"Liberation Serif",serif' font-size="100" font-weight="normal" font-style="italic" fill="#000" stroke="#fff" stroke-width="0.45" vector-effect="non-scaling-stroke">c</text>
<text transform="matrix(0.5758 0.0000 0.0000 0.5435 255.585 787.107)" font-family='"Liberation Serif",serif' font-size="100" font-weight="normal" font-style="normal" fill="#000" stroke="#fff" stroke-width="0.80" vector-effect="non-scaling-stroke">at</text>
<text transform="matrix(0.6200 0.0000 0.0000 0.5122 311.070 786.750)" font-family='"Liberation Serif",serif' font-size="100" font-weight="normal" font-style="italic" fill="#000" stroke="#fff" stroke-width="0.80" vector-effect="non-scaling-stroke">T</text>
<text transform="matrix(0.7312 0.0000 0.0000 0.5380 360.544 792.063)" font-family='"Liberation Serif",serif' font-size="100" font-weight="normal" font-style="normal" fill="#000" stroke="#fff" stroke-width="0.80" vector-effect="non-scaling-stroke">=</text>
<text transform="matrix(0.5084 0.0000 0.0000 0.5015 413.151 787.048)" font-family='"Liberation Serif",serif' font-size="100" font-weight="normal" font-style="normal" fill="#000" stroke="#fff" stroke-width="0.80" vector-effect="non-scaling-stroke">1.0</text>
<text transform="matrix(0.6074 0.0000 0.0000 0.6160 488.141 794.707)" font-family='"Liberation Serif",serif' font-size="100" font-weight="normal" font-style="normal" fill="#000" stroke="#fff" stroke-width="0.80" vector-effect="non-scaling-stroke">×</text>
<text transform="matrix(0.4971 0.0000 0.0000 0.5052 533.550 787.295)" font-family='"Liberation Serif",serif' font-size="100" font-weight="normal" font-style="normal" fill="#000" stroke="#fff" stroke-width="0.80" vector-effect="non-scaling-stroke">10</text>
<text transform="matrix(0.3527 0.0000 0.0000 0.3848 582.645 768.100)" font-family='"Liberation Serif",serif' font-size="100" font-weight="normal" font-style="normal" fill="#000" stroke="#fff" stroke-width="0.50" vector-effect="non-scaling-stroke">4</text>
<text transform="matrix(0.5968 0.0000 0.0000 0.5035 986.210 787.146)" font-family='"Liberation Serif",serif' font-size="100" font-weight="normal" font-style="italic" fill="#000" stroke="#fff" stroke-width="0.80" vector-effect="non-scaling-stroke">d</text>
<text transform="matrix(0.4037 0.0000 0.0000 0.3052 1010.164 793.620)" font-family='"Liberation Serif",serif' font-size="100" font-weight="normal" font-style="italic" fill="#000" stroke="#fff" stroke-width="0.45" vector-effect="non-scaling-stroke">c</text>
<text transform="matrix(0.5758 0.0000 0.0000 0.5435 1043.985 787.107)" font-family='"Liberation Serif",serif' font-size="100" font-weight="normal" font-style="normal" fill="#000" stroke="#fff" stroke-width="0.80" vector-effect="non-scaling-stroke">at</text>
<text transform="matrix(0.6200 0.0000 0.0000 0.5122 1099.470 786.750)" font-family='"Liberation Serif",serif' font-size="100" font-weight="normal" font-style="italic" fill="#000" stroke="#fff" stroke-width="0.80" vector-effect="non-scaling-stroke">T</text>
<text transform="matrix(0.7312 0.0000 0.0000 0.5380 1148.944 792.063)" font-family='"Liberation Serif",serif' font-size="100" font-weight="normal" font-style="normal" fill="#000" stroke="#fff" stroke-width="0.80" vector-effect="non-scaling-stroke">=</text>
<text transform="matrix(0.5090 0.0000 0.0000 0.5015 1201.482 787.048)" font-family='"Liberation Serif",serif' font-size="100" font-weight="normal" font-style="normal" fill="#000" stroke="#fff" stroke-width="0.80" vector-effect="non-scaling-stroke">4.0</text>
<text transform="matrix(0.6074 0.0000 0.0000 0.6160 1276.541 794.707)" font-family='"Liberation Serif",serif' font-size="100" font-weight="normal" font-style="normal" fill="#000" stroke="#fff" stroke-width="0.80" vector-effect="non-scaling-stroke">×</text>
<text transform="matrix(0.4971 0.0000 0.0000 0.5052 1321.950 787.295)" font-family='"Liberation Serif",serif' font-size="100" font-weight="normal" font-style="normal" fill="#000" stroke="#fff" stroke-width="0.80" vector-effect="non-scaling-stroke">10</text>
<text transform="matrix(0.3527 0.0000 0.0000 0.3848 1371.045 768.100)" font-family='"Liberation Serif",serif' font-size="100" font-weight="normal" font-style="normal" fill="#000" stroke="#fff" stroke-width="0.50" vector-effect="non-scaling-stroke">4</text>
<text transform="matrix(0.4235 0.0000 0.0000 0.4074 2407.312 747.993)" font-family='"Liberation Serif",serif' font-size="100" font-weight="normal" font-style="normal" fill="#262626">0</text>
<text transform="matrix(0.4060 0.0000 0.0000 0.4132 2407.077 618.240)" font-family='"Liberation Serif",serif' font-size="100" font-weight="normal" font-style="normal" fill="#262626">0.2</text>
<line x1="2391.40" y1="604.86" x2="2398.40" y2="604.86" stroke="#3a2a20" stroke-opacity="0.6" stroke-width="1.4"/>
<text transform="matrix(0.3925 0.0000 0.0000 0.4132 2407.128 488.700)" font-family='"Liberation Serif",serif' font-size="100" font-weight="normal" font-style="normal" fill="#262626">0.4</text>
<line x1="2391.40" y1="475.32" x2="2398.40" y2="475.32" stroke="#3a2a20" stroke-opacity="0.6" stroke-width="1.4"/>
<text transform="matrix(0.3975 0.0000 0.0000 0.4132 2407.110 359.160)" font-family='"Liberation Serif",serif' font-size="100" font-weight="normal" font-style="normal" fill="#262626">0.6</text>
<line x1="2391.40" y1="345.78" x2="2398.40" y2="345.78" stroke="#3a2a20" stroke-opacity="0.6" stroke-width="1.4"/>
<text transform="matrix(0.4000 0.0000 0.0000 0.4132 2407.100 229.620)" font-family='"Liberation Serif",serif' font-size="100" font-weight="normal" font-style="normal" fill="#262626">0.8</text>
<line x1="2391.40" y1="216.24" x2="2398.40" y2="216.24" stroke="#3a2a20" stroke-opacity="0.6" stroke-width="1.4"/>
<text transform="matrix(0.3234 0.0000 0.0000 0.4136 2409.370 100.400)" font-family='"Liberation Serif",serif' font-size="100" font-weight="normal" font-style="normal" fill="#262626">1</text>
<rect x="1702.90" y="827.00" width="729.10" height="532.10" fill="#fff" stroke="#9a9a9a" stroke-width="1.7"/>
<path d="M1945.80 1359.10v-7.00M1945.80 827.00v7.00" stroke="#666" stroke-width="1.3" fill="none"/>
<path d="M1702.90 1181.73h7.00M2432.00 1181.73h-7.00" stroke="#666" stroke-width="1.3" fill="none"/>
<path d="M2188.70 1359.10v-7.00M2188.70 827.00v7.00" stroke="#666" stroke-width="1.3" fill="none"/>
<path d="M1702.90 1004.37h7.00M2432.00 1004.37h-7.00" stroke="#666" stroke-width="1.3" fill="none"/>
<text transform="matrix(0.4380 0.0000 0.0000 0.4380 1691.750 1408.627)" font-family='"Liberation Serif",serif' font-size="100" font-weight="normal" font-style="normal" fill="#262626">0</text>
<text transform="matrix(0.4380 0.0000 0.0000 0.4380 1669.443 1373.844)" font-family='"Liberation Serif",serif' font-size="100" font-weight="normal" font-style="normal" fill="#262626">0</text>
<text transform="matrix(0.4380 0.0000 0.0000 0.4380 1935.057 1408.517)" font-family='"Liberation Serif",serif' font-size="100" font-weight="normal" font-style="normal" fill="#262626">2</text>
<text transform="matrix(0.4380 0.0000 0.0000 0.4380 1670.209 1196.642)" font-family='"Liberation Serif",serif' font-size="100" font-weight="normal" font-style="normal" fill="#262626">2</text>
<text transform="matrix(0.4380 0.0000 0.0000 0.4380 2177.707 1408.299)" font-family='"Liberation Serif",serif' font-size="100" font-weight="normal" font-style="normal" fill="#262626">4</text>
<text transform="matrix(0.4380 0.0000 0.0000 0.4380 1668.457 1019.166)" font-family='"Liberation Serif",serif' font-size="100" font-weight="normal" font-style="normal" fill="#262626">4</text>
<text transform="matrix(0.4380 0.0000 0.0000 0.4380 2420.576 1408.517)" font-family='"Liberation Serif",serif' font-size="100" font-weight="normal" font-style="normal" fill="#262626">6</text>
<text transform="matrix(0.4380 0.0000 0.0000 0.4380 1669.114 841.690)" font-family='"Liberation Serif",serif' font-size="100" font-weight="normal" font-style="normal" fill="#262626">6</text>
<text transform="matrix(0.5111 0.0000 0.0000 0.4933 1704.011 826.212)" font-family='"Liberation Serif",serif' font-size="100" font-weight="normal" font-style="normal" fill="#262626">×</text>
<text transform="matrix(0.4126 0.0000 0.0000 0.4281 1734.590 820.672)" font-family='"Liberation Serif",serif' font-size="100" font-weight="normal" font-style="normal" fill="#262626">10</text>
<text transform="matrix(0.3055 0.0000 0.0000 0.2989 1776.449 805.201)" font-family='"Liberation Serif",serif' font-size="100" font-weight="normal" font-style="normal" fill="#262626">3</text>
<text transform="matrix(0.5284 0.0000 0.0000 0.5031 2340.873 1476.640)" font-family='"Liberation Serif",serif' font-size="100" font-weight="normal" font-style="normal" fill="#262626">×</text>
<text transform="matrix(0.4263 0.0000 0.0000 0.4385 2373.170 1470.761)" font-family='"Liberation Serif",serif' font-size="100" font-weight="normal" font-style="normal" fill="#262626">10</text>
<text transform="matrix(0.3484 0.0000 0.0000 0.3559 2413.803 1449.600)" font-family='"Liberation Serif",serif' font-size="100" font-weight="normal" font-style="normal" fill="#262626">4</text>
<text transform="matrix(0.6036 0.0000 0.0000 0.5130 2046.176 1458.700)" font-family='"Liberation Serif",serif' font-size="100" font-weight="normal" font-style="italic" fill="#262626" stroke="#fff" stroke-width="0.80" vector-effect="non-scaling-stroke">T</text>
<text transform="matrix(0.0000 -0.4938 0.5224 0.0000 1648.578 1186.194)" font-family='"Liberation Serif",serif' font-size="100" font-weight="normal" font-style="normal" fill="#262626" stroke="#fff" stroke-width="0.80" vector-effect="non-scaling-stroke">Area</text>
<text transform="matrix(0.0000 -0.7767 0.5576 0.0000 1648.752 1078.901)" font-family='"Liberation Serif",serif' font-size="100" font-weight="normal" font-style="normal" fill="#262626" stroke="#fff" stroke-width="0.80" vector-effect="non-scaling-stroke">(</text>
<text transform="matrix(0.0000 -0.4994 0.4125 0.0000 1648.688 1056.998)" font-family='"Liberation Serif",serif' font-size="100" font-weight="normal" font-style="italic" fill="#262626" stroke="#fff" stroke-width="0.80" vector-effect="non-scaling-stroke">a</text>
<text transform="matrix(0.0000 -0.3482 0.3000 0.0000 1660.300 1035.135)" font-family='"Liberation Serif",serif' font-size="100" font-weight="normal" font-style="italic" fill="#262626" stroke="#fff" stroke-width="0.80" vector-effect="non-scaling-stroke">s</text>
<text transform="matrix(0.0000 -0.3205 0.3517 0.0000 1632.500 1036.062)" font-family='"Liberation Serif",serif' font-size="100" font-weight="normal" font-style="normal" fill="#262626" stroke="#fff" stroke-width="0.80" vector-effect="non-scaling-stroke">2</text>
<text transform="matrix(0.0000 -0.8117 0.5576 0.0000 1648.752 1021.238)" font-family='"Liberation Serif",serif' font-size="100" font-weight="normal" font-style="normal" fill="#262626" stroke="#fff" stroke-width="0.80" vector-effect="non-scaling-stroke">)</text>
<polyline points="1702.8,913.9 1824.0,979.5 1884.8,1014.6 1945.5,1051.5 2006.2,1090.9 2066.9,1131.7 2127.7,1177.2 2188.4,1225.1 2249.1,1278.0 2309.8,1337.0 2334.1,1352.6 2370.6,1359.0" fill="none" stroke="#1a7cc0" stroke-width="1.25" stroke-opacity="0.8"/>
<polyline points="1702.8,913.9 1824.0,1001.0 1884.8,1046.2 1945.5,1088.5 2006.2,1127.9 2066.9,1172.1 2127.7,1212.2 2188.4,1253.5 2249.1,1299.5 2309.8,1337.3 2334.1,1352.6 2370.6,1359.0" fill="none" stroke="#db5a22" stroke-width="1.25" stroke-opacity="0.8"/>
<path d="M1697.0 913.9h11.6M1702.8 908.1v11.6M1698.7 909.8l8.2 8.2M1698.7 918.0l8.2 -8.2" stroke="#1a7cc0" stroke-width="1.3" fill="none"/>
<path d="M1818.2 979.5h11.6M1824.0 973.7v11.6M1819.9 975.3l8.2 8.2M1819.9 983.6l8.2 -8.2" stroke="#1a7cc0" stroke-width="1.3" fill="none"/>
<path d="M1879.0 1014.6h11.6M1884.8 1008.8v11.6M1880.7 1010.5l8.2 8.2M1880.7 1018.7l8.2 -8.2" stroke="#1a7cc0" stroke-width="1.3" fill="none"/>
<path d="M1939.7 1051.5h11.6M1945.5 1045.7v11.6M1941.4 1047.4l8.2 8.2M1941.4 1055.6l8.2 -8.2" stroke="#1a7cc0" stroke-width="1.3" fill="none"/>
<path d="M2000.4 1090.9h11.6M2006.2 1085.1v11.6M2002.1 1086.8l8.2 8.2M2002.1 1095.0l8.2 -8.2" stroke="#1a7cc0" stroke-width="1.3" fill="none"/>
<path d="M2061.1 1131.7h11.6M2066.9 1125.9v11.6M2062.8 1127.6l8.2 8.2M2062.8 1135.8l8.2 -8.2" stroke="#1a7cc0" stroke-width="1.3" fill="none"/>
<path d="M2121.9 1177.2h11.6M2127.7 1171.4v11.6M2123.6 1173.1l8.2 8.2M2123.6 1181.3l8.2 -8.2" stroke="#1a7cc0" stroke-width="1.3" fill="none"/>
<path d="M2182.6 1225.1h11.6M2188.4 1219.3v11.6M2184.3 1221.0l8.2 8.2M2184.3 1229.2l8.2 -8.2" stroke="#1a7cc0" stroke-width="1.3" fill="none"/>
<path d="M2243.3 1278.0h11.6M2249.1 1272.2v11.6M2245.0 1273.9l8.2 8.2M2245.0 1282.1l8.2 -8.2" stroke="#1a7cc0" stroke-width="1.3" fill="none"/>
<path d="M2304.0 1337.0h11.6M2309.8 1331.2v11.6M2305.7 1332.9l8.2 8.2M2305.7 1341.1l8.2 -8.2" stroke="#1a7cc0" stroke-width="1.3" fill="none"/>
<path d="M2328.3 1352.6h11.6M2334.1 1346.8v11.6M2330.0 1348.5l8.2 8.2M2330.0 1356.7l8.2 -8.2" stroke="#1a7cc0" stroke-width="1.3" fill="none"/>
<path d="M2364.8 1359.0h11.6M2370.6 1353.2v11.6M2366.5 1354.9l8.2 8.2M2366.5 1363.1l8.2 -8.2" stroke="#1a7cc0" stroke-width="1.3" fill="none"/>
<circle cx="1702.8" cy="913.9" r="5.0" fill="none" stroke="#db5a22" stroke-width="1.5"/>
<circle cx="1824.0" cy="1001.0" r="5.0" fill="none" stroke="#db5a22" stroke-width="1.5"/>
<circle cx="1884.8" cy="1046.2" r="5.0" fill="none" stroke="#db5a22" stroke-width="1.5"/>
<circle cx="1945.5" cy="1088.5" r="5.0" fill="none" stroke="#db5a22" stroke-width="1.5"/>
<circle cx="2006.2" cy="1127.9" r="5.0" fill="none" stroke="#db5a22" stroke-width="1.5"/>
<circle cx="2066.9" cy="1172.1" r="5.0" fill="none" stroke="#db5a22" stroke-width="1.5"/>
<circle cx="2127.7" cy="1212.2" r="5.0" fill="none" stroke="#db5a22" stroke-width="1.5"/>
<circle cx="2188.4" cy="1253.5" r="5.0" fill="none" stroke="#db5a22" stroke-width="1.5"/>
<circle cx="2249.1" cy="1299.5" r="5.0" fill="none" stroke="#db5a22" stroke-width="1.5"/>
<circle cx="2309.8" cy="1337.3" r="5.0" fill="none" stroke="#db5a22" stroke-width="1.5"/>
<circle cx="2334.1" cy="1352.6" r="5.0" fill="none" stroke="#db5a22" stroke-width="1.5"/>
<circle cx="2370.6" cy="1359.0" r="5.0" fill="none" stroke="#db5a22" stroke-width="1.5"/>
<rect x="2034.4" y="845.0" width="380.3" height="102.6" fill="#fff" stroke="#8c8c8c" stroke-width="1.7"/>
<line x1="2043.9" y1="869.3" x2="2094.6" y2="869.3" stroke="#1a7cc0" stroke-width="1.25" stroke-opacity="0.8"/>
<path d="M2063.5 869.3h11.6M2069.3 863.5v11.6M2065.2 865.2l8.2 8.2M2065.2 873.4l8.2 -8.2" stroke="#1a7cc0" stroke-width="1.3" fill="none"/>
<line x1="2043.9" y1="917.7" x2="2094.6" y2="917.7" stroke="#db5a22" stroke-width="1.25" stroke-opacity="0.8"/>
<circle cx="2069.3" cy="917.7" r="5.0" fill="none" stroke="#db5a22" stroke-width="1.5"/>
<text transform="matrix(0.3792 0.0000 0.0000 0.3750 2099.057 882.737)" font-family='"Liberation Serif",serif' font-size="100" font-weight="normal" font-style="normal" fill="#000">By number of atoms</text>
<text transform="matrix(0.3688 0.0000 0.0000 0.3811 2099.331 936.850)" font-family='"Liberation Serif",serif' font-size="100" font-weight="normal" font-style="normal" fill="#000">A</text>
<text transform="matrix(0.4301 0.0000 0.0000 0.2740 2123.949 933.186)" font-family='"Liberation Serif",serif' font-size="100" font-weight="normal" font-style="normal" fill="#000">=</text>
<text transform="matrix(0.3346 0.0000 0.0000 0.3617 2149.833 936.838)" font-family='"Liberation Serif",serif' font-size="100" font-weight="normal" font-style="italic" fill="#000">π</text>
<text transform="matrix(0.3910 0.0000 0.0000 0.3779 2177.425 936.850)" font-family='"Liberation Serif",serif' font-size="100" font-weight="normal" font-style="normal" fill="#000">H</text>
<text transform="matrix(0.3081 0.0000 0.0000 0.2898 2204.891 918.100)" font-family='"Liberation Serif",serif' font-size="100" font-weight="normal" font-style="normal" fill="#000">2</text>
<text transform="matrix(0.3633 0.0000 0.0000 0.3925 2219.600 936.807)" font-family='"Liberation Serif",serif' font-size="100" font-weight="normal" font-style="normal" fill="#000">/4</text>
</svg>
</body></html>
